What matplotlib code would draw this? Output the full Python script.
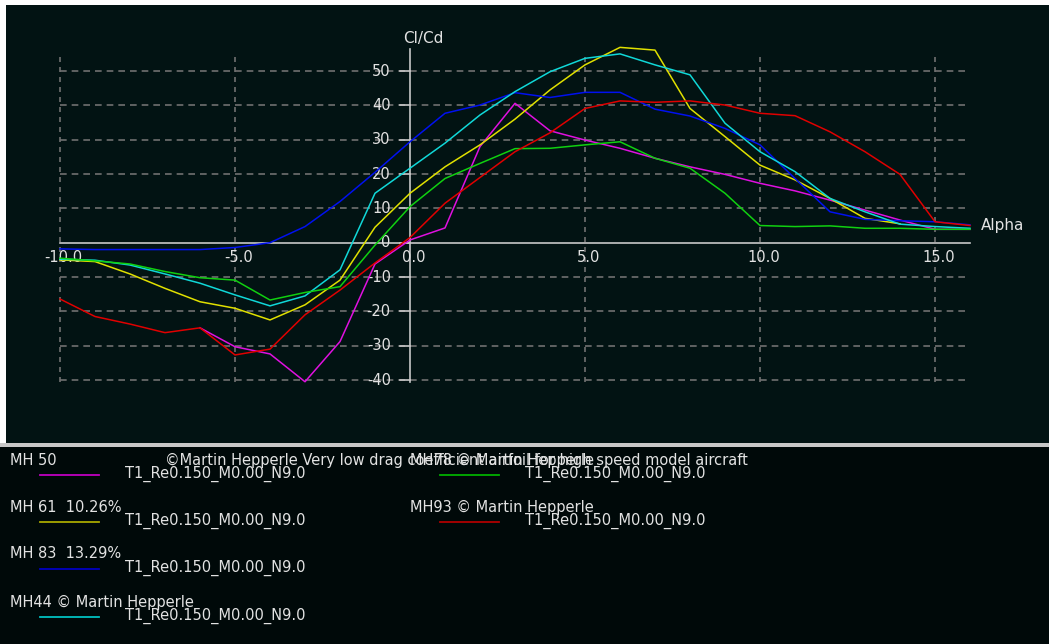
import numpy as np
import matplotlib
matplotlib.use("Agg")
import matplotlib.pyplot as plt

# polar data, Cl/Cd vs alpha (Re 150k)
alpha = np.arange(-10, 17)

mh50_alpha = np.arange(-6, 17)
mh50 = [-24.8, -30.3, -32.4, -40.5, -28.8, -6.2, 0.8, 4.3, 28.0, 40.6, 32.6, 29.9,
        27.5, 24.6, 22.1, 19.9, 17.3, 15.1, 12.4, 9.5, 6.6, 3.9, 3.9]

mh61_alpha = np.arange(-10, 15)
mh61 = [-5.0, -5.5, -9.1, -13.3, -17.2, -19.1, -22.5, -18.1, -10.9, 4.5, 14.4, 22.1,
        28.5, 36.0, 44.5, 51.8, 56.9, 56.1, 39.1, 30.9, 22.6, 18.3, 12.9, 7.1, 5.5]

mh83 = [-1.8, -2.0, -2.0, -2.0, -2.0, -1.4, 0.0, 4.7, 12.0, 20.5, 29.4, 37.7, 40.1,
        43.7, 42.3, 43.8, 43.8, 38.9, 36.9, 33.3, 28.5, 18.7, 9.0, 6.8, 6.4, 6.1, 5.2]

mh44 = [-4.8, -5.1, -6.5, -9.1, -11.8, -15.2, -18.4, -15.5, -7.9, 14.4, 21.7, 29.0,
        37.2, 44.0, 49.8, 53.7, 55.0, 51.8, 48.9, 34.8, 26.5, 20.7, 12.9, 9.0, 5.4, 4.7, 4.2]

mh78 = [-4.5, -5.3, -6.2, -8.4, -10.2, -10.9, -16.7, -14.5, -12.8, -0.7, 10.5, 18.7,
        23.1, 27.4, 27.5, 28.5, 29.4, 24.6, 21.7, 14.4, 5.0, 4.7, 4.9, 4.2, 4.2, 3.9, 3.9]

mh93 = [-16.4, -21.5, -23.7, -26.2, -24.8, -32.7, -31.0, -21.0, -13.8, -5.9, 1.5, 11.5,
        19.0, 26.5, 32.0, 39.1, 41.3, 40.9, 41.3, 40.1, 37.7, 37.0, 32.3, 26.5, 19.9, 6.1, 5.0]

x_ticks = [-10, -5, 0, 5, 10, 15]
y_ticks = [50, 40, 30, 20, 10, 0, -10, -20, -30, -40]

names = ["MH 50", "MH 61  10.26%", "MH 83  13.29%", "MH44 \u00a9 Martin Hepperle",
         "MH78 \u00a9 Martin Hepperle", "MH93 \u00a9 Martin Hepperle"]
polar_name = "T1_Re0.150_M0.00_N9.0"
mh50_note = "\u00a9Martin Hepperle Very low drag coefficient airfoil for high speed model aircraft"

colors = ["#e010e0", "#e0e000", "#0010f0", "#10d8d8", "#10d010", "#e00000"]
leg_colors = ["#c000c0", "#a8a800", "#0000c0", "#00c0c0", "#00b000", "#b00000"]

W, H = 1049, 644
txt = "#e2e2e2"
grid_c = "#707070"

fig = plt.figure(figsize=(W / 100, H / 100), dpi=100)
fig.patch.set_facecolor("white")

# plot panel
ax = fig.add_axes([6 / W, (H - 443) / H, (W - 6) / W, (443 - 5) / H])
ax.set_facecolor("#021313")
ax.set_xlim((6 - 410) / 35, (W - 410) / 35)
ax.set_ylim((242.7 - 443) / 3.433, (242.7 - 5) / 3.433)
for s in ax.spines.values():
    s.set_visible(False)
ax.set_xticks([])
ax.set_yticks([])

# grid
for xv in x_ticks:
    if xv != 0:
        ax.plot([xv, xv], [-40.6, 55.5], color=grid_c, lw=1.2, ls=(0, (3, 3)), zorder=1)
for yv in y_ticks:
    if yv != 0:
        ax.plot([-10, 16], [yv, yv], color=grid_c, lw=1.2, ls=(0, (4, 3)), zorder=1)

# axes lines
ax.plot([-10, 16], [0, 0], color="#c8c8c8", lw=1.2, zorder=2)
ax.plot([0, 0], [-40.6, 56.4], color="#c8c8c8", lw=1.2, zorder=2)
for yv in y_ticks:
    ax.plot([-0.3, 0], [yv, yv], color="#c8c8c8", lw=1.2, zorder=2)

for xv in x_ticks:
    ax.text(xv + 0.1, -4.3, f"{xv:.1f}", color=txt, fontsize=10.5, ha="center", va="center", zorder=2)
for yv in y_ticks:
    ax.text(-0.55, yv, f"{yv}", color=txt, fontsize=10.5, ha="right", va="center", zorder=2)
ax.text(0.38, 59.5, "Cl/Cd", color=txt, fontsize=11, ha="center", va="center")
ax.text(16.3, 5.0, "Alpha", color=txt, fontsize=11, ha="left", va="center")

series = [(mh50_alpha, mh50), (mh61_alpha, mh61), (alpha, mh83),
          (alpha, mh44), (alpha, mh78), (alpha, mh93)]
for (xa, ya), c in zip(series, colors):
    ax.plot(xa, ya, color=c, lw=1.1, zorder=3)

# separator and legend panel
fig.add_artist(plt.Rectangle((0, (H - 447) / H), 1, 4 / H, transform=fig.transFigure,
                             facecolor="#c8c8c8", edgecolor="none"))
lax = fig.add_axes([0, 0, 1, (H - 447) / H])
lax.set_facecolor("#000909")
lax.set_xlim(0, W)
lax.set_ylim(H, 447)
lax.axis("off")
lax.add_patch(plt.Rectangle((0, 447), W, H - 447, facecolor="#000909", edgecolor="none"))

fs = 10.5
pos = [(10, 460), (10, 507), (10, 554), (10, 602), (410, 460), (410, 507)]
for (px, py), name, c in zip(pos, names, leg_colors):
    lax.text(px, py, name, color=txt, fontsize=fs, ha="left", va="center")
    lax.plot([px + 30, px + 89], [py + 15, py + 15], color=c, lw=1.3)
    lax.text(px + 115, py + 14, polar_name, color=txt, fontsize=fs, ha="left", va="center")
lax.text(165, 460, mh50_note, color=txt, fontsize=fs, ha="left", va="center")

fig.savefig("out.png", dpi=100)
